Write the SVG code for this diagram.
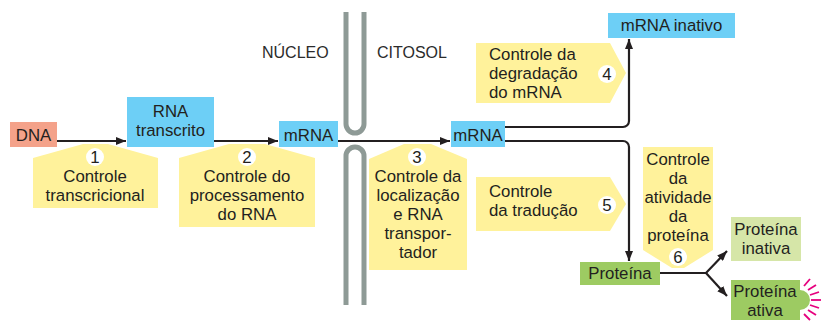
<svg xmlns="http://www.w3.org/2000/svg" width="824" height="321" viewBox="0 0 824 321">
<style>
text{font-family:"Liberation Sans",Arial,sans-serif;font-size:16.8px;fill:#231F20}
.c{text-anchor:middle}
.lab{font-size:16px;fill:#2b2b2b}
.call{fill:#FFF29B}
.num{fill:#fff}
.blue{fill:#6DCFF6}
.ln{fill:none;stroke:#231F20;stroke-width:2.2}
.mem{fill:none;stroke:#8E9A96;stroke-width:5}
.ray{stroke:#E6007E;stroke-width:1.8}
</style>
<defs>
<marker id="ah" viewBox="0 0 10 8" refX="10" refY="4" markerWidth="10" markerHeight="8" markerUnits="userSpaceOnUse" orient="auto">
<path d="M0,0 L10,4 L0,8 z" fill="#231F20"/>
</marker>
</defs>

<g id="membrane">
<path class="mem" d="M346,12 V124 A9,9 0 0 0 364,124 V12"/>
<path class="mem" d="M346,305 V156 A9,9 0 0 1 364,156 V305"/>
</g>
<text class="lab" x="262" y="58">NÚCLEO</text>
<text class="lab" x="377" y="58">CITOSOL</text>

<g id="connectors">
<line class="ln" x1="57" y1="141" x2="126" y2="141" marker-end="url(#ah)"/>
<line class="ln" x1="214" y1="141" x2="278" y2="141" marker-end="url(#ah)"/>
<line class="ln" x1="338" y1="141" x2="450" y2="141" marker-end="url(#ah)"/>
<path class="ln" d="M505,127 H623 A6,6 0 0 0 629,121 V39" marker-end="url(#ah)"/>
<path class="ln" d="M505,141 H623 A6,6 0 0 1 629,147 V261" marker-end="url(#ah)"/>
<path class="ln" d="M660,273 H706 L727,251" marker-end="url(#ah)"/>
<path class="ln" d="M706,273 L727,296" marker-end="url(#ah)"/>
</g>

<g id="dna">
<rect x="10" y="122" width="47" height="25" fill="#F4A28A"/>
<text class="c" x="33.5" y="141">DNA</text>
</g>
<g id="rna-transcrito">
<rect class="blue" x="127" y="97" width="87" height="50"/>
<text class="c" x="170.5" y="117">RNA</text>
<text class="c" x="170.5" y="136">transcrito</text>
</g>
<g id="mrna1">
<rect class="blue" x="279" y="121" width="59" height="26"/>
<text class="c" x="308.5" y="141">mRNA</text>
</g>
<g id="mrna2">
<rect class="blue" x="451" y="121" width="54" height="26"/>
<text class="c" x="478" y="141">mRNA</text>
</g>
<g id="mrna-inativo">
<rect class="blue" x="608" y="13" width="127" height="25"/>
<text class="c" x="671.5" y="31">mRNA inativo</text>
</g>
<g id="proteina">
<rect x="580" y="262" width="80" height="23" fill="#9DCB62"/>
<text class="c" x="620" y="279">Proteína</text>
</g>
<g id="proteina-inativa">
<rect x="731" y="217" width="70" height="44" fill="#D6E6A8"/>
<text class="c" x="766" y="235">Proteína</text>
<text class="c" x="766" y="254">inativa</text>
</g>
<g id="proteina-ativa">
<path d="M731,280 H800 V290 A10,10 0 0 1 800,310 V320 H731 z" fill="#9DCB62"/>
<text class="c" x="765" y="297">Proteína</text>
<text class="c" x="765" y="316">ativa</text>
<g class="ray">
<line x1="804" y1="286" x2="810" y2="279"/>
<line x1="808" y1="290" x2="816" y2="285"/>
<line x1="810" y1="295" x2="819" y2="292"/>
<line x1="811" y1="300" x2="821" y2="300"/>
<line x1="810" y1="305" x2="819" y2="308"/>
<line x1="808" y1="310" x2="816" y2="315"/>
<line x1="804" y1="314" x2="810" y2="320"/>
</g>
</g>

<g id="c1">
<polygon class="call" points="33,208 33,158 83,144 108,144 158,158 158,208"/>
<circle class="num" cx="95" cy="157" r="9"/>
<text class="c" x="95" y="163">1</text>
<text class="c" x="95" y="181.5">Controle</text>
<text class="c" x="95" y="200.5">transcricional</text>
</g>
<g id="c2">
<polygon class="call" points="179,227 179,158 229,144 265,144 315,158 315,227"/>
<circle class="num" cx="247" cy="157" r="9"/>
<text class="c" x="247" y="163">2</text>
<text class="c" x="247" y="181.5">Controle do</text>
<text class="c" x="247" y="200.5">processamento</text>
<text class="c" x="247" y="219.5">do RNA</text>
</g>
<g id="c3">
<polygon class="call" points="369,270 369,159 404,144 431,144 467,159 467,270"/>
<circle class="num" cx="417" cy="157" r="9"/>
<text class="c" x="417" y="163">3</text>
<text class="c" x="418" y="181.5">Controle da</text>
<text class="c" x="418" y="200.5">localização</text>
<text class="c" x="418" y="219.5">e RNA</text>
<text class="c" x="418" y="238.5">transpor-</text>
<text class="c" x="418" y="257.5">tador</text>
</g>
<g id="c4">
<polygon class="call" points="476,43 610,43 626,73 610,103 476,103"/>
<circle class="num" cx="607" cy="74" r="9"/>
<text class="c" x="607" y="80">4</text>
<text x="489" y="59.5">Controle da</text>
<text x="489" y="78.5">degradação</text>
<text x="489" y="97.5">do mRNA</text>
</g>
<g id="c5">
<polygon class="call" points="476,177 610,177 626,204 610,231 476,231"/>
<circle class="num" cx="607" cy="205" r="9"/>
<text class="c" x="607" y="211">5</text>
<text x="489" y="197">Controle</text>
<text x="489" y="216">da tradução</text>
</g>
<g id="c6">
<polygon class="call" points="643,147 713,147 713,250 684,268 672,268 643,250"/>
<circle class="num" cx="678" cy="257" r="9"/>
<text class="c" x="678" y="263">6</text>
<text class="c" x="678" y="165">Controle</text>
<text class="c" x="678" y="184">da</text>
<text class="c" x="678" y="203">atividade</text>
<text class="c" x="678" y="222">da</text>
<text class="c" x="678" y="241">proteína</text>
</g>
</svg>
